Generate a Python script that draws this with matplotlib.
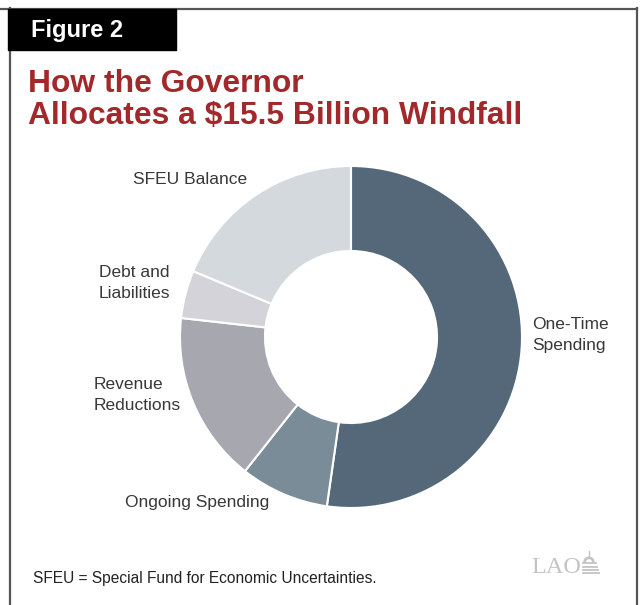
import matplotlib.pyplot as plt
from matplotlib.patches import Rectangle, Wedge
from matplotlib.lines import Line2D

plt.rcParams['font.family'] = ['Liberation Sans', 'DejaVu Sans']

# $ billions, clockwise from the top
categories = ['One-Time Spending', 'Ongoing Spending', 'Revenue Reductions',
              'Debt and Liabilities', 'SFEU Balance']
amounts = [8.1, 1.3, 2.5, 0.7, 2.9]
colors = ['#546879', '#7b8c99', '#a7a7b0', '#d4d3d9', '#d4d9dd']
label_text = ['One-Time\nSpending', 'Ongoing Spending', 'Revenue\nReductions',
              'Debt and\nLiabilities', 'SFEU Balance']

W, H = 640, 605
fig = plt.figure(figsize=(W / 100, H / 100), dpi=100)

def fx(x):
    return x / W

def fy(y):
    return 1 - y / H

# frame
fig.add_artist(Line2D([0, fx(637)], [fy(8.5), fy(8.5)], color='#555555', lw=1.6))
fig.add_artist(Line2D([fx(10), fx(10)], [fy(8), 0], color='#555555', lw=1.6))
fig.add_artist(Line2D([fx(636.5), fx(636.5)], [fy(8), 0], color='#555555', lw=1.6))
fig.add_artist(Rectangle((fx(8), fy(50)), fx(176) - fx(8), fy(9) - fy(50),
                         transform=fig.transFigure, color='black', zorder=5))
fig.text(fx(31), fy(37), 'Figure 2', color='white', fontsize=17, fontweight='bold',
         va='baseline', ha='left', zorder=6)

fig.text(fx(28), fy(92.5), 'How the Governor', color='#a3282b', fontsize=22.9,
         fontweight='bold', va='baseline')
fig.text(fx(28), fy(124), 'Allocates a $15.5 Billion Windfall', color='#a3282b',
         fontsize=22.9, fontweight='bold', va='baseline')

# donut
cx, cy, r = 351, 337, 171
ax = fig.add_axes([fx(cx - r), fy(cy + r), (2 * r) / W, (2 * r) / H])
ax.pie(amounts, colors=colors, startangle=90, counterclock=False, radius=1,
       wedgeprops=dict(width=0.497, edgecolor='white', linewidth=1.5))
ax.set_xlim(-1, 1)
ax.set_ylim(-1, 1)
ax.axis('off')

lab_kw = dict(fontsize=12.5, color='#383838', va='center', linespacing=1.55)
fig.text(fx(532), fy(335), label_text[0], ha='left', **lab_kw)
fig.text(fx(197), fy(503), label_text[1], ha='center', **lab_kw)
fig.text(fx(94), fy(395), label_text[2], ha='left', **lab_kw)
fig.text(fx(99), fy(283), label_text[3], ha='left', **lab_kw)
fig.text(fx(190), fy(180), label_text[4], ha='center', **lab_kw)

fig.text(fx(33), fy(578), 'SFEU = Special Fund for Economic Uncertainties.',
         fontsize=11.2, color='#222222', va='center')

# LAO mark
logo = '#c4c4c4'
fig.text(fx(531), fy(573), 'LAO', family='Liberation Serif', fontsize=17.5,
         color=logo, va='baseline')
fig.add_artist(Wedge((fx(589), fy(562)), fx(5), 0, 180, width=fx(1.3),
                     transform=fig.transFigure, color=logo))
fig.add_artist(Line2D([fx(589), fx(589)], [fy(551), fy(557)], color=logo, lw=1))
for yy, x0, x1 in [(563, 583, 596), (566.5, 583, 597), (570, 583, 598), (573, 583, 599)]:
    fig.add_artist(Line2D([fx(x0), fx(x1)], [fy(yy), fy(yy)], color=logo, lw=1.3))

fig.savefig('out.png', dpi=100)
